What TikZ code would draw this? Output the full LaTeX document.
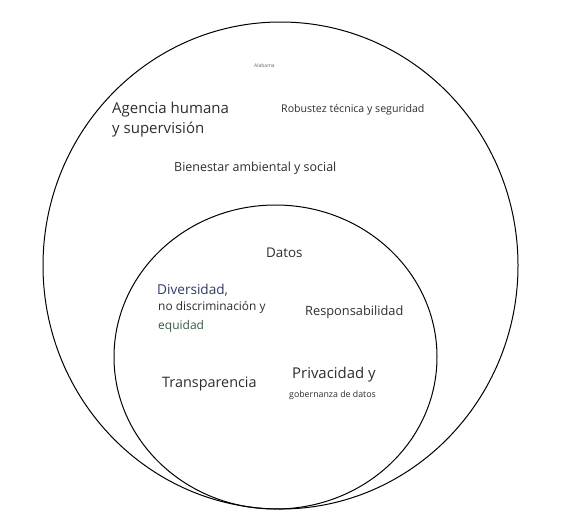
\documentclass[tikz,border=0pt]{standalone}
\usepackage{fontspec}
\setmainfont{Open Sans}
\definecolor{txt}{HTML}{2E2E2E}
\definecolor{navy}{HTML}{2F3A66}
\definecolor{dgreen}{HTML}{3A5A45}
\begin{document}
\begin{tikzpicture}[x=1pt,y=-1pt,
  ring/.style={draw=black,line width=1pt},
  lbl/.style={inner sep=0pt,text=txt,anchor=west}]
\useasboundingbox (0,0) rectangle (578,531);
\fill[white] (0,0) rectangle (578,531);
\draw[ring] (280.5,265.5) ellipse [x radius=237.5, y radius=243.5];
\draw[ring] (275.5,357) ellipse [x radius=161.5, y radius=152];
\node[lbl,font=\fontsize{5}{6}\selectfont,text=black!60] (alab) at (254,66) {Alabama};
\node[lbl,font=\fontsize{15}{19.5}\selectfont,align=left,anchor=north west] (ag) at (112,102) {Agencia humana\\y supervisión};
\node[lbl,font=\fontsize{10.6}{12}\selectfont] (rob) at (281,110) {Robustez técnica y seguridad};
\node[lbl,font=\fontsize{12.45}{14}\selectfont] (bien) at (174,168) {Bienestar ambiental y social};
\node[lbl,font=\fontsize{13.4}{15}\selectfont] (dat) at (266,253) {Datos};
\node[lbl,font=\fontsize{13.6}{15}\selectfont,text=navy] (div) at (157,290) {Diversidad,};
\node[lbl,font=\fontsize{11.9}{13}\selectfont] (nod) at (158,307) {no discriminación y};
\node[lbl,font=\fontsize{12}{13}\selectfont,text=dgreen] (equ) at (158,326) {equidad};
\node[lbl,font=\fontsize{12.8}{14}\selectfont] (resp) at (305,312) {Responsabilidad};
\node[lbl,font=\fontsize{14.4}{16}\selectfont] (tra) at (162,384) {Transparencia};
\node[lbl,font=\fontsize{14.9}{16}\selectfont] (priv) at (292,375) {Privacidad y};
\node[lbl,font=\fontsize{8.8}{10}\selectfont] (gob) at (289,395) {gobernanza de datos};
\end{tikzpicture}
\end{document}
